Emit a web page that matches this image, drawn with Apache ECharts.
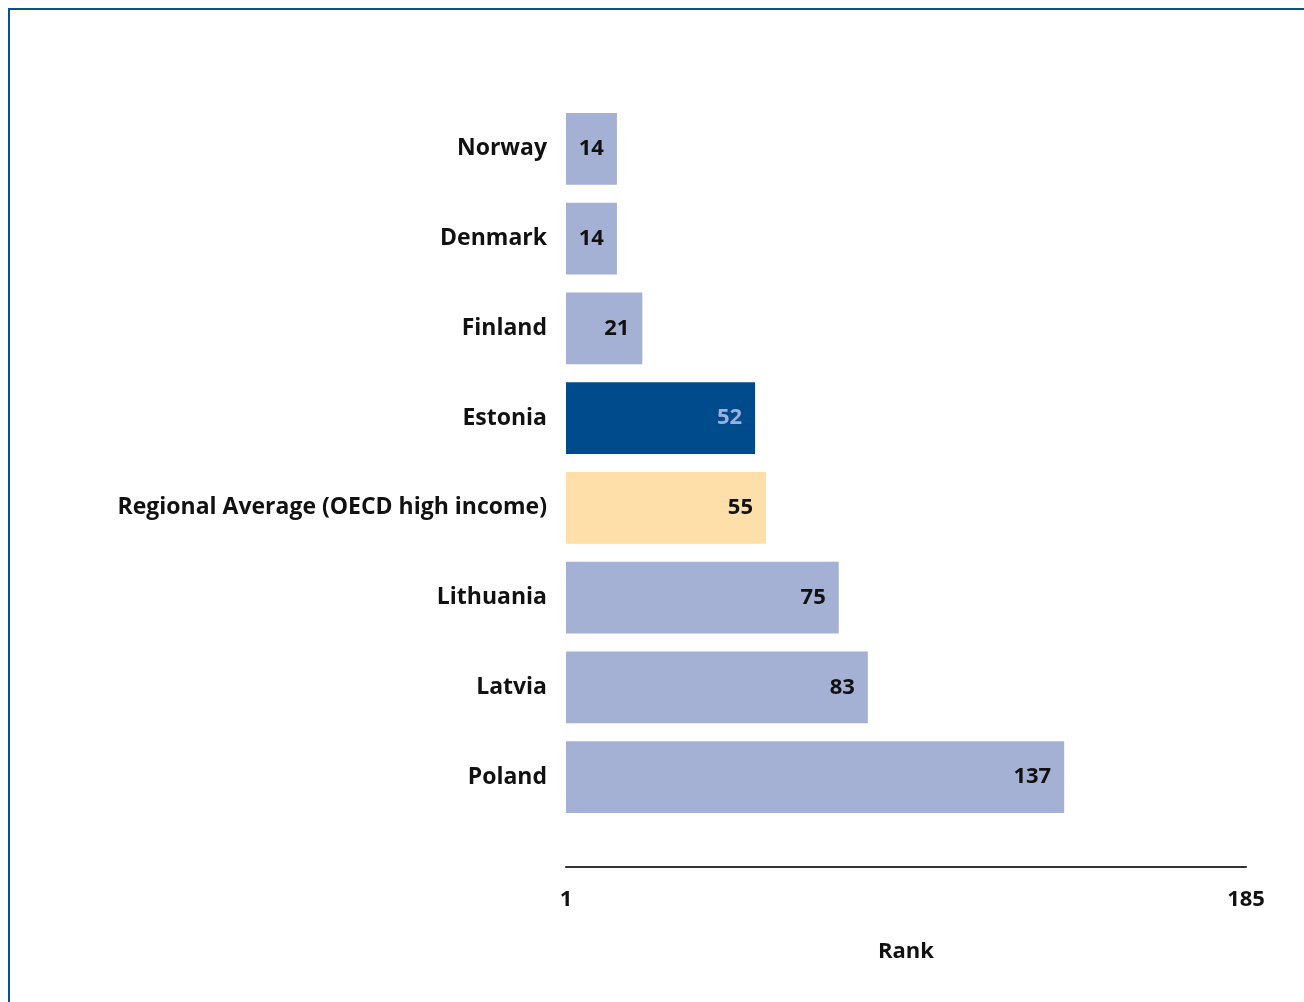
<!DOCTYPE html>
<html>
<head>
<meta charset="utf-8">
<script src="https://cdn.jsdelivr.net/npm/echarts@6/dist/echarts.min.js"></script>
<style>
html,body{margin:0;padding:0;background:#fff;}
#frame{position:absolute;left:8px;top:8px;width:1296px;height:994px;border-top:2px solid #0a4f92;border-left:2px solid #0a4f92;box-sizing:border-box;}
#chart{position:absolute;left:0;top:0;width:1304px;height:1002px;}
</style>
</head>
<body>
<div id="frame"></div>
<div id="chart"></div>
<script>
const categories = ['Norway','Denmark','Finland','Estonia','Regional Average (OECD high income)','Lithuania','Latvia','Poland'];
const ranks = [14,14,21,52,55,75,83,137];
const tickLabels = ['1','185'];
const axisMin = 0, axisMax = 187;

const FONT = '"Open Sans", "Noto Sans", sans-serif';
const barColor = '#a4b0d4', highlight = '#004b8c', average = '#fedfa9';

const data = ranks.map((v,i)=>{
  const name = categories[i];
  let color = barColor, lab = '#111';
  if (name === 'Estonia') { color = highlight; lab = '#9db0dc'; }
  else if (name.indexOf('Regional') === 0) { color = average; }
  return {value:v, itemStyle:{color:color}, label:{color:lab}};
});

const chart = echarts.init(document.getElementById('chart'), null, {renderer:'canvas'});
chart.setOption({
  animation:false,
  grid:{left:566, right:58, top:104, bottom:180, containLabel:false},
  xAxis:{
    type:'value', min:axisMin, max:axisMax, interval:axisMax,
    offset:45,
    splitLine:{show:false},
    axisTick:{show:false},
    axisLine:{show:true, lineStyle:{color:'#333', width:2}},
    axisLabel:{
      margin:22, fontFamily:FONT, fontWeight:'bold', fontSize:22, color:'#111',
      showMinLabel:true, showMaxLabel:true,
      formatter:function(v){ return v===axisMin ? tickLabels[0] : (v===axisMax ? tickLabels[1] : ''); }
    },
    name:'Rank', nameLocation:'middle', nameGap:74,
    nameTextStyle:{fontFamily:FONT, fontWeight:'bold', fontSize:22, color:'#111'}
  },
  yAxis:{
    type:'category', data:categories, inverse:true,
    axisLine:{show:false}, axisTick:{show:false}, splitLine:{show:false},
    axisLabel:{margin:19, fontFamily:FONT, fontWeight:'bold', fontSize:23, color:'#111', padding:[4,0,0,0]}
  },
  series:[{
    type:'bar', data:data, barCategoryGap:'20%',
    label:{show:true, position:'insideRight', distance:13, fontFamily:FONT, fontWeight:'bold', fontSize:22}
  }]
});
</script>
</body>
</html>
